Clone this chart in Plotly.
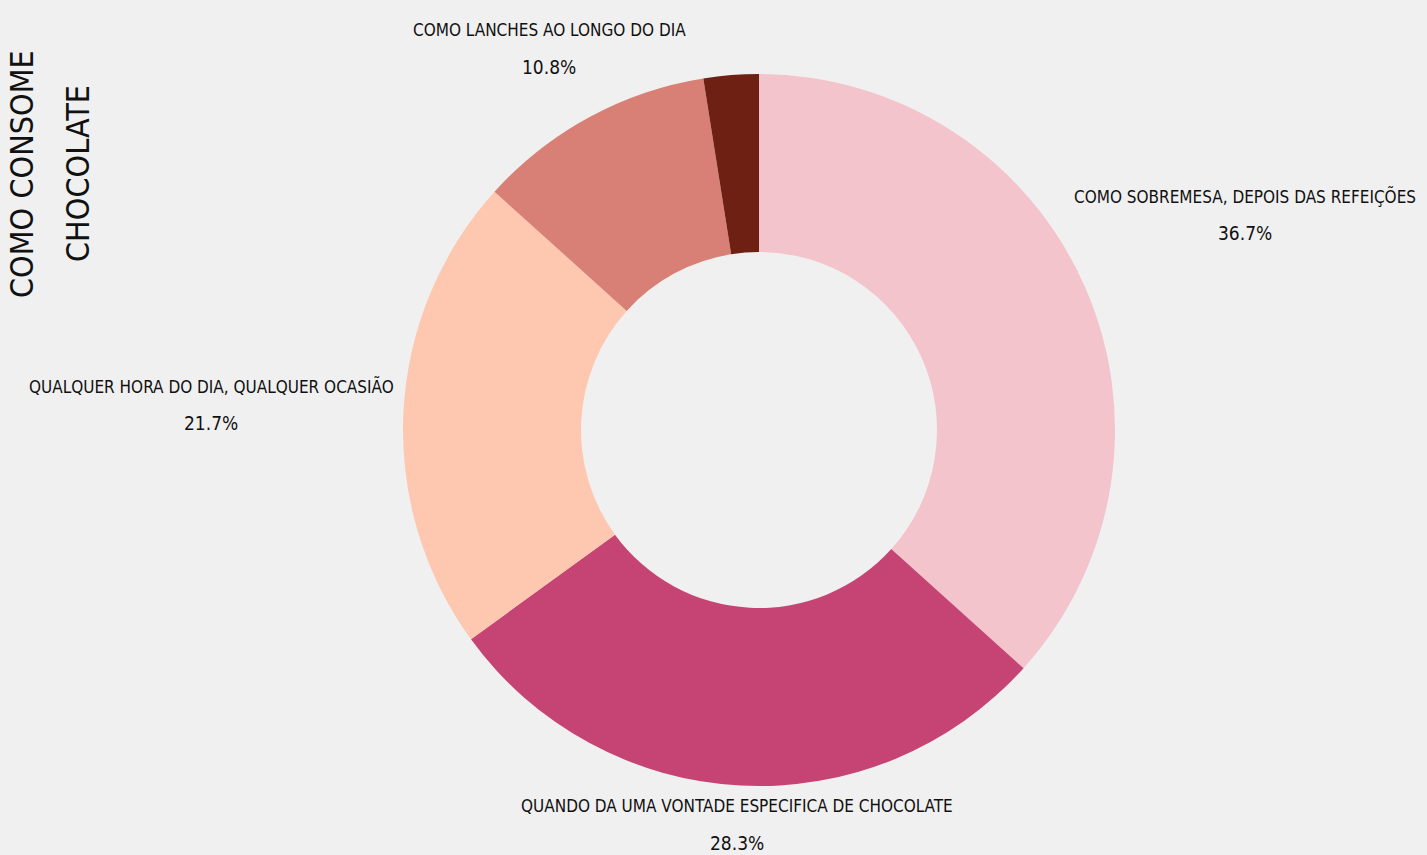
import plotly.graph_objects as go

categories = [
    "COMO SOBREMESA, DEPOIS DAS REFEIÇÕES",
    "QUANDO DA UMA VONTADE ESPECIFICA DE CHOCOLATE",
    "QUALQUER HORA DO DIA, QUALQUER OCASIÃO",
    "COMO LANCHES AO LONGO DO DIA",
    "OUTROS",
]
counts = [44, 34, 26, 13, 3]
colors = ["#f4c4cd", "#c64474", "#fdc7b0", "#d98076", "#6e2112"]
show_label = [True, True, True, True, False]
title_lines = ["COMO CONSOME", "CHOCOLATE"]

# label positions in pixels: centre x, y of first line (layout only)
label_pos = [(1245, 196), (737, 806), (211, 386), (549, 30), None]
LINE_GAP = 37

W, H = 1427, 855
FONT = "DejaVu Sans Condensed, DejaVu Sans, sans-serif"

total = sum(counts)

fig = go.Figure()
fig.add_trace(go.Pie(
    labels=categories,
    values=counts,
    textinfo="none",
    hole=0.5,
    sort=False,
    direction="clockwise",
    rotation=0,
    marker=dict(colors=colors, line=dict(width=0)),
    showlegend=False,
    hoverinfo="label+percent",
    domain=dict(x=[(759 - 356) / W, (759 + 356) / W], y=[(855 - 786) / H, (855 - 74) / H]),
))


def px_note(text, x, y, size, angle=0):
    fig.add_annotation(
        text=text,
        xref="paper", yref="paper",
        x=x / W, y=1 - y / H,
        xanchor="center", yanchor="middle",
        textangle=angle,
        showarrow=False,
        font=dict(family=FONT, size=size, color="#111111"),
    )


for c, v, s, pos in zip(categories, counts, show_label, label_pos):
    if not s:
        continue
    px_note(c, pos[0], pos[1], 17)
    px_note(f"{v / total * 100:.1f}%", pos[0], pos[1] + LINE_GAP, 19)

# vertical title, one annotation per line
for i, line in enumerate(title_lines):
    px_note(line, 22 + i * 56, 174, 32, angle=-90)

fig.update_layout(
    width=W,
    height=H,
    paper_bgcolor="#f0f0f0",
    plot_bgcolor="#f0f0f0",
    margin=dict(l=0, r=0, t=0, b=0),
)

fig.write_html("out.html", config={"displayModeBar": False},
               post_script="document.body.style.margin='0';")
